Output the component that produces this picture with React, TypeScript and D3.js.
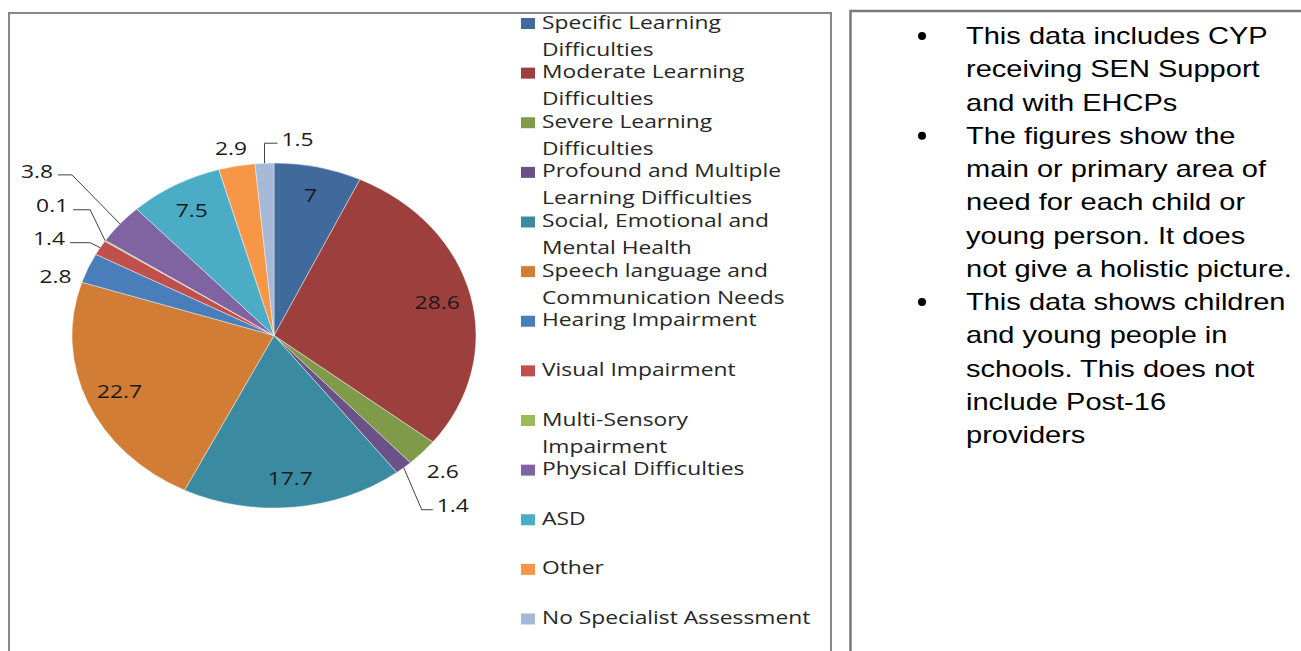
import { useEffect, useRef } from 'react';
import * as d3 from 'd3';

const CATEGORIES = [
  'Specific Learning Difficulties',
  'Moderate Learning Difficulties',
  'Severe Learning Difficulties',
  'Profound and Multiple Learning Difficulties',
  'Social, Emotional and Mental Health',
  'Speech language and Communication Needs',
  'Hearing Impairment',
  'Visual Impairment',
  'Multi-Sensory Impairment',
  'Physical Difficulties',
  'ASD',
  'Other',
  'No Specialist Assessment',
];

const VALUES = [7, 28.6, 2.6, 1.4, 17.7, 22.7, 2.8, 1.4, 0.1, 3.8, 7.5, 2.9, 1.5];

// legend text as it wraps in the original
const LEGEND_LINES = [
  ['Specific Learning', 'Difficulties'],
  ['Moderate Learning', 'Difficulties'],
  ['Severe Learning', 'Difficulties'],
  ['Profound and Multiple', 'Learning Difficulties'],
  ['Social, Emotional and', 'Mental Health'],
  ['Speech language and', 'Communication Needs'],
  ['Hearing Impairment'],
  ['Visual Impairment'],
  ['Multi-Sensory', 'Impairment'],
  ['Physical Difficulties'],
  ['ASD'],
  ['Other'],
  ['No Specialist Assessment'],
];

const COLORS = [
  '#3f6a9b', '#9d403d', '#7f9a48', '#6a5188', '#3a8ba1', '#d17d36',
  '#4a7ebb', '#c0504d', '#9bbb59', '#8064a2', '#4bacc6', '#f79646', '#a7b9d9',
];

const NOTES = [
  ['This data includes CYP', 'receiving SEN Support', 'and with EHCPs'],
  ['The figures show the', 'main or primary area of', 'need for each child or', 'young person. It does', 'not give a holistic picture.'],
  ['This data shows children', 'and young people in', 'schools. This does not', 'include Post-16', 'providers'],
];

const W = 1301;
const H = 651;
const PIE = { cx: 274, cy: 335.5, rx: 202, ry: 172.5 };
const SX = 1.2; // the original was stretched sideways
const NOTE_SX = 1.21;
const FONT = '"Open Sans", Calibri, sans-serif';
const NOTE_FONT = '"Liberation Sans", Arial, sans-serif';

type Place =
  | { kind: 'in' }
  | { kind: 'out'; f: number; dx: number; dy: number }
  | { kind: 'leader'; elbow: [number, number]; run: number };

// where each data label sits, in category order
const PLACES: Place[] = [
  { kind: 'in' },
  { kind: 'in' },
  { kind: 'out', f: 1.14, dx: 0, dy: 2 },
  { kind: 'leader', elbow: [18, 42], run: 11 },
  { kind: 'in' },
  { kind: 'in' },
  { kind: 'out', f: 1.1, dx: -14, dy: 15 },
  { kind: 'leader', elbow: [-10, -5], run: -20 },
  { kind: 'leader', elbow: [-15, -31], run: -17 },
  { kind: 'leader', elbow: [-48, -49], run: -14 },
  { kind: 'in' },
  { kind: 'out', f: 1.1, dx: -2, dy: -1 },
  { kind: 'leader', elbow: [0, -20], run: 13 },
];

export default function App() {
  const svgRef = useRef<SVGSVGElement>(null);

  useEffect(() => {
    const svg = svgRef.current;
    if (!svg) return;
    const root = d3.select(svg);
    root.selectAll('*').remove();

    // frames
    root.append('rect')
      .attr('x', 9).attr('y', 13).attr('width', 822).attr('height', 700)
      .attr('fill', 'none').attr('stroke', '#888').attr('stroke-width', 2);
    root.append('rect')
      .attr('x', 850.5).attr('y', 11).attr('width', 500).attr('height', 700)
      .attr('fill', 'none').attr('stroke', '#7a7a7a').attr('stroke-width', 2.5);

    // pie
    const pie = d3.pie<number>().sort(null).value((d) => d);
    const arcs = pie(VALUES);
    const arc = d3.arc<d3.PieArcDatum<number>>().innerRadius(0).outerRadius(PIE.rx);

    const pg = root.append('g')
      .attr('transform', `translate(${PIE.cx},${PIE.cy}) scale(1,${PIE.ry / PIE.rx})`);
    pg.selectAll('path')
      .data(arcs)
      .join('path')
      .attr('d', arc)
      .attr('fill', (_, i) => COLORS[i])
      .attr('stroke', '#fff')
      .attr('stroke-opacity', 0.6)
      .attr('stroke-width', 0.7)
      .attr('vector-effect', 'non-scaling-stroke');

    const pt = (a: number, f: number): [number, number] => [
      PIE.cx + PIE.rx * f * Math.sin(a),
      PIE.cy - PIE.ry * f * Math.cos(a),
    ];

    const label = (x: number, y: number, txt: string, anchor: string) => {
      root.append('text')
        .attr('transform', `translate(${x},${y}) scale(${SX},1)`)
        .attr('text-anchor', anchor)
        .attr('dy', '0.35em')
        .attr('font-family', FONT)
        .attr('font-size', 19)
        .attr('fill', '#1a1a1a')
        .text(txt);
    };

    arcs.forEach((d, i) => {
      const mid = (d.startAngle + d.endAngle) / 2;
      const p = PLACES[i];
      const txt = String(VALUES[i]);
      if (p.kind === 'in') {
        const [x, y] = pt(mid, 0.83);
        label(x, y, txt, 'middle');
      } else if (p.kind === 'out') {
        const [x, y] = pt(mid, p.f);
        label(x + p.dx, y + p.dy, txt, 'middle');
      } else {
        const [x0, y0] = pt(mid, 1);
        const x1 = x0 + p.elbow[0];
        const y1 = y0 + p.elbow[1];
        const x2 = x1 + p.run;
        root.append('path')
          .attr('d', `M${x0},${y0}L${x1},${y1}L${x2},${y1}`)
          .attr('fill', 'none')
          .attr('stroke', '#404040')
          .attr('stroke-width', 1);
        const right = p.run >= 0;
        label(x2 + (right ? 4 : -5), y1 - 4, txt, right ? 'start' : 'end');
      }
    });

    // legend
    const ly = d3.scaleLinear().domain([0, CATEGORIES.length - 1]).range([28.5, 624]);
    LEGEND_LINES.forEach((lines, i) => {
      const base = ly(i);
      root.append('rect')
        .attr('x', 521).attr('y', base - 10.5)
        .attr('width', 14).attr('height', 11)
        .attr('fill', COLORS[i]);
      lines.forEach((ln, j) => {
        root.append('text')
          .attr('transform', `translate(542,${base + j * 27}) scale(${SX},1)`)
          .attr('font-family', FONT)
          .attr('font-size', 19)
          .attr('fill', '#262626')
          .text(ln);
      });
    });

    // notes panel
    let line = 0;
    NOTES.forEach((bullet) => {
      bullet.forEach((ln, j) => {
        const base = 44 + line * 33.25;
        if (j === 0) {
          root.append('circle')
            .attr('cx', 922).attr('cy', base - 8).attr('r', 4)
            .attr('fill', '#000');
        }
        root.append('text')
          .attr('transform', `translate(966,${base}) scale(${NOTE_SX},1)`)
          .attr('font-family', NOTE_FONT)
          .attr('font-size', 24)
          .attr('fill', '#000')
          .text(ln);
        line += 1;
      });
    });
  }, []);

  return (
    <svg
      ref={svgRef}
      width={W}
      height={H}
      style={{ position: 'absolute', left: 0, top: 0, background: '#fff' }}
    />
  );
}
